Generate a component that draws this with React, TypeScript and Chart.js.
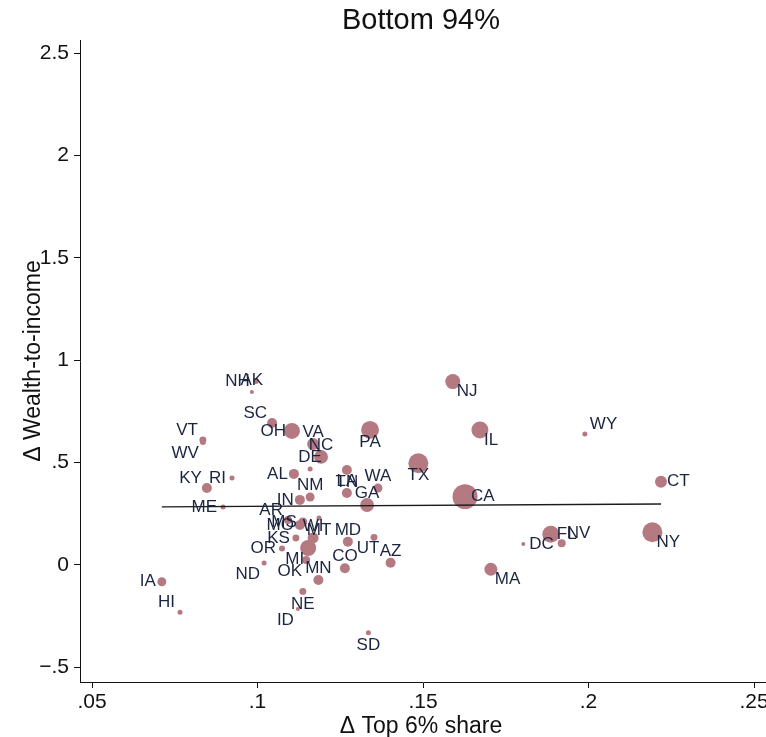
import React, { useEffect, useRef } from "react";
import { Chart, registerables } from "chart.js";

Chart.register(...registerables);

// ---- data ----
const states = [
  "AK", "AL", "AR", "AZ", "CA", "CO", "CT", "DC", "DE", "FL", "GA", "HI", "IA",
  "ID", "IL", "IN", "KS", "KY", "LA", "MA", "MD", "ME", "MI", "MN", "MO", "MS",
  "MT", "NC", "ND", "NE", "NH", "NJ", "NM", "NV", "NY", "OH", "OK", "OR", "PA",
  "RI", "SC", "SD", "TN", "TX", "UT", "VA", "VT", "WA", "WI", "WV", "WY",
];
const deltaTopShare = [
  0.0983, 0.111, 0.1092, 0.1402, 0.1627, 0.1264, 0.2219, 0.1803, 0.1159, 0.1886, 0.1331, 0.0766, 0.0711,
  0.1122, 0.1672, 0.1128, 0.1116, 0.0847, 0.127, 0.1705, 0.1273, 0.0896, 0.1153, 0.1184, 0.1128, 0.1137,
  0.1186, 0.1192, 0.102, 0.1137, 0.0995, 0.159, 0.1159, 0.1919, 0.2193, 0.1104, 0.1147, 0.1074, 0.134,
  0.0923, 0.1044, 0.1335, 0.127, 0.1486, 0.1352, 0.1168, 0.0835, 0.1364, 0.1168, 0.0835, 0.1989,
];
const deltaWealthIncome = [
  0.845, 0.445, 0.22, 0.011, 0.334, -0.016, 0.407, 0.103, 0.469, 0.15, 0.293, -0.231, -0.082,
  -0.215, 0.66, 0.318, 0.132, 0.376, 0.352, -0.021, 0.114, 0.283, 0.083, -0.073, 0.195, 0.21,
  0.23, 0.528, 0.01, -0.129, 0.899, 0.896, 0.332, 0.106, 0.16, 0.655, 0.024, 0.08, 0.66,
  0.425, 0.694, -0.331, 0.464, 0.497, 0.135, 0.591, 0.611, 0.376, 0.132, 0.601, 0.64,
];
const weights = [
  1, 6.25, 4, 6.25, 39, 6.25, 9, 1, 1.6, 18, 12, 1.6, 5,
  1, 18, 6.25, 3, 6.25, 6.25, 10.5, 6.25, 1.6, 16, 6.25, 6, 5,
  1.6, 12, 1.6, 3, 2.25, 14, 5, 4, 25, 16, 4, 2.25, 20,
  1.6, 6.25, 1.6, 6.25, 25, 3, 9, 3, 5, 7.5, 2.25, 1.6,
];
// marker-label clock position (as in Stata's mlabvposition)
const labelClock = [
  12, 9, 10, 12, 3, 12, 3, 3, 12, 3, 12, 10, 9,
  8, 4, 9, 9, 10, 12, 4, 12, 9, 8, 12, 9, 9,
  6, 12, 8, 6, 9, 4, 12, 2, 4, 9, 8, 9, 6,
  9, 10, 6, 6, 6, 7, 12, 10, 12, 12, 8, 2,
];
const fitX = [0.0711, 0.2219];
const fitY = [0.284, 0.298];
const xTicks = [0.05, 0.1, 0.15, 0.2, 0.25];
const yTicks = [-0.5, 0, 0.5, 1, 1.5, 2, 2.5];

const titleText = "Bottom 94%";
const xTitle = "\u0394 Top 6% share";
const yTitle = "\u0394 Wealth-to-income";

// ---- style ----
const FONT = '"Liberation Sans", Arial, Helvetica, sans-serif';
const BUBBLE = "rgb(181,122,129)";
const LABEL = "#1c2540";
const INK = "#111111";

const CLOCK: Record<number, { align: CanvasTextAlign; dx: number; dy: number }> = {
  2: { align: "left", dx: 5, dy: -9.5 },
  3: { align: "left", dx: 6, dy: 0 },
  4: { align: "left", dx: 4, dy: 10 },
  6: { align: "center", dx: 0, dy: 12.5 },
  7: { align: "center", dx: -6, dy: 11 },
  8: { align: "right", dx: -4, dy: 11 },
  9: { align: "right", dx: -6, dy: 0 },
  10: { align: "right", dx: -5, dy: -10 },
  12: { align: "center", dx: 0, dy: -11.5 },
};

const fmt = (v: number) => {
  let s = String(+v.toFixed(3));
  if (s.startsWith("0.")) s = s.slice(1);
  else if (s.startsWith("-0.")) s = "\u2212" + s.slice(2);
  return s;
};

const labelPlugin = {
  id: "stateLabels",
  afterDatasetsDraw(chart: any) {
    const meta = chart.getDatasetMeta(1);
    const ctx = chart.ctx as CanvasRenderingContext2D;
    ctx.save();
    ctx.font = `17px ${FONT}`;
    ctx.fillStyle = LABEL;
    ctx.textBaseline = "middle";
    meta.data.forEach((el: any, i: number) => {
      const spec = CLOCK[labelClock[i]] || CLOCK[3];
      ctx.textAlign = spec.align;
      ctx.fillText(states[i], el.x + spec.dx, el.y + spec.dy);
    });
    ctx.restore();
  },
};

const textPlugin = {
  id: "titles",
  afterDraw(chart: any) {
    const ctx = chart.ctx as CanvasRenderingContext2D;
    const ca = chart.chartArea;
    ctx.save();
    ctx.fillStyle = INK;
    ctx.textAlign = "center";
    ctx.textBaseline = "alphabetic";
    ctx.font = `29px ${FONT}`;
    ctx.fillText(titleText, 421, 29);
    ctx.font = `23px ${FONT}`;
    ctx.fillText(xTitle, 421, 733);
    ctx.translate(40, (ca.top + ca.bottom) / 2);
    ctx.rotate(-Math.PI / 2);
    ctx.fillText(yTitle, 0, 0);
    ctx.restore();
  },
};

export default function App() {
  const ref = useRef<HTMLCanvasElement | null>(null);
  useEffect(() => {
    if (!ref.current) return;
    const bubbles = states.map((_, i) => ({
      x: deltaTopShare[i],
      y: deltaWealthIncome[i],
      r: 2 * Math.sqrt(weights[i]),
    }));
    const fit = fitX.map((x, i) => ({ x, y: fitY[i] }));
    const chart = new Chart(ref.current, {
      type: "bubble",
      data: {
        datasets: [
          {
            type: "line",
            data: fit,
            borderColor: "#1a1a1a",
            borderWidth: 1.3,
            pointRadius: 0,
            fill: false,
            order: 0,
          } as any,
          {
            type: "bubble",
            data: bubbles,
            backgroundColor: BUBBLE,
            borderWidth: 0,
            hoverRadius: 0,
            order: 1,
          } as any,
        ],
      },
      options: {
        animation: false,
        responsive: false,
        devicePixelRatio: 1,
        layout: { padding: { top: 40, right: 24, left: 0, bottom: 0 } },
        plugins: { legend: { display: false }, tooltip: { enabled: false }, title: { display: false } },
        scales: {
          x: {
            type: "linear",
            min: 0.05 - 12 / 3310,
            max: 0.25 + 12 / 3310,
            afterBuildTicks: (s: any) => {
              s.ticks = xTicks.map((v) => ({ value: v }));
            },
            afterFit: (s: any) => {
              s.height = 55;
            },
            grid: { drawOnChartArea: false, drawTicks: true, tickLength: 6, color: INK, lineWidth: 1 },
            border: { display: true, color: INK, width: 1 },
            ticks: {
              callback: (v: any) => fmt(Number(v)),
              font: { family: FONT, size: 21 },
              color: INK,
              padding: 2,
              maxRotation: 0,
              autoSkip: false,
            },
          },
          y: {
            type: "linear",
            min: -0.5717,
            max: 2.565,
            afterBuildTicks: (s: any) => {
              s.ticks = yTicks.map((v) => ({ value: v }));
            },
            afterFit: (s: any) => {
              s.width = 80;
            },
            grid: { drawOnChartArea: false, drawTicks: true, tickLength: 6, color: INK, lineWidth: 1 },
            border: { display: true, color: INK, width: 1 },
            ticks: {
              callback: (v: any) => fmt(Number(v)),
              font: { family: FONT, size: 21 },
              color: INK,
              padding: 5,
              autoSkip: false,
            },
          },
        },
      },
      plugins: [labelPlugin, textPlugin],
    });
    return () => chart.destroy();
  }, []);
  return (
    <div style={{ position: "fixed", left: 0, top: 0, width: 766, height: 737, overflow: "hidden", background: "#fff" }}>
      <canvas ref={ref} width={790} height={737} style={{ display: "block", width: 790, height: 737 }} />
    </div>
  );
}
